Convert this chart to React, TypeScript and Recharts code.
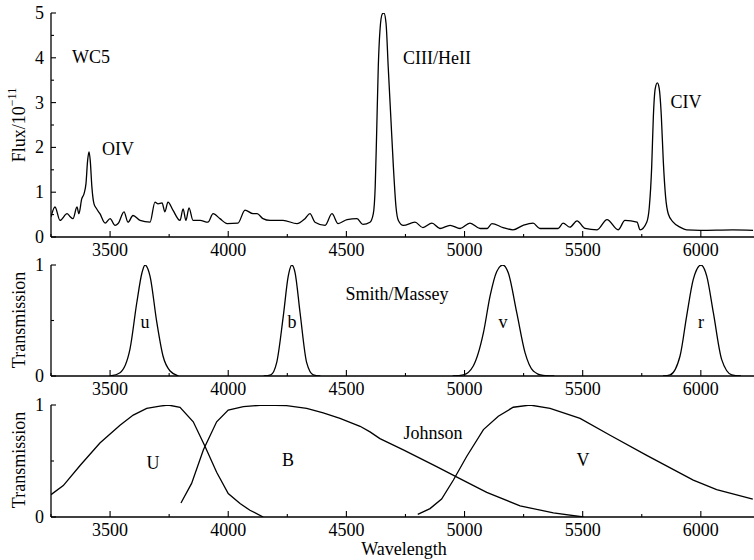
import React from "react";
import { LineChart, Line, XAxis, YAxis } from "recharts";

// WC5 spectrum (wavelength in Å, flux in 1e-11)
const spectrumWave = [
  3250, 3267, 3288, 3318, 3330, 3343, 3360, 3368, 3380, 3390, 3398, 3405, 3411,
  3416, 3423, 3432, 3443, 3457, 3479, 3500, 3521, 3534, 3559, 3576, 3597, 3627,
  3669, 3690, 3703, 3720, 3732, 3745, 3766, 3796, 3809, 3821, 3834, 3851, 3881,
  3914, 3936, 3965, 3995, 4041, 4071, 4105, 4122, 4147, 4177, 4232, 4291, 4325,
  4346, 4367, 4410, 4439, 4465, 4503, 4545, 4570, 4600, 4614, 4622, 4628, 4635,
  4642, 4652, 4659, 4668, 4677, 4688, 4699, 4710, 4720, 4741, 4790, 4824, 4862,
  4896, 4939, 4981, 5023, 5066, 5095, 5116, 5163, 5205, 5248, 5290, 5319, 5396,
  5417, 5446, 5476, 5510, 5561, 5603, 5650, 5679, 5730, 5743, 5771, 5782, 5792,
  5799, 5807, 5816, 5824, 5833, 5841, 5851, 5862, 5883, 5912, 5940, 5997, 6136,
  6221,
];
const spectrumFlux = [
  0.45, 0.67, 0.37, 0.52, 0.46, 0.41, 0.67, 0.52, 0.85, 0.97, 1.19, 1.71, 1.9,
  1.71, 1.12, 0.74, 0.63, 0.52, 0.31, 0.41, 0.26, 0.3, 0.56, 0.33, 0.48, 0.37,
  0.33, 0.78, 0.74, 0.76, 0.56, 0.78, 0.6, 0.37, 0.63, 0.37, 0.65, 0.37, 0.37,
  0.33, 0.52, 0.41, 0.3, 0.31, 0.6, 0.52, 0.52, 0.41, 0.37, 0.37, 0.3, 0.41,
  0.52, 0.33, 0.26, 0.52, 0.3, 0.39, 0.41, 0.28, 0.33, 0.52, 1.12, 2.3, 3.8,
  4.6, 4.98, 5.0, 4.76, 3.8, 2.68, 1.56, 0.67, 0.37, 0.26, 0.33, 0.21, 0.31,
  0.19, 0.26, 0.19, 0.31, 0.19, 0.19, 0.3, 0.21, 0.16, 0.26, 0.31, 0.19, 0.19,
  0.31, 0.22, 0.36, 0.19, 0.16, 0.39, 0.16, 0.37, 0.33, 0.16, 0.33, 0.67, 1.56,
  2.68, 3.31, 3.44, 3.31, 2.68, 1.71, 0.89, 0.52, 0.33, 0.22, 0.16, 0.15, 0.16,
  0.15,
];

// Smith/Massey filters
const uWave = [3500, 3542, 3584, 3613, 3635, 3648, 3669, 3698, 3724, 3754, 3790];
const uTrans = [0, 0.03, 0.24, 0.66, 0.93, 1.0, 0.9, 0.48, 0.18, 0.045, 0];
const bWave = [4150, 4180, 4205, 4233, 4254, 4269, 4283, 4304, 4332, 4360, 4390];
const bTrans = [0, 0.01, 0.12, 0.54, 0.9, 1.0, 0.93, 0.57, 0.12, 0.01, 0];
const vWave = [4950, 4995, 5037, 5080, 5108, 5136, 5162, 5185, 5221, 5256, 5291, 5333, 5380];
const vTrans = [0, 0.01, 0.09, 0.39, 0.72, 0.94, 1.0, 0.93, 0.57, 0.21, 0.045, 0.005, 0];
const rWave = [5840, 5870, 5912, 5940, 5968, 6001, 6025, 6053, 6088, 6131, 6170];
const rTrans = [0, 0.01, 0.18, 0.54, 0.87, 1.0, 0.9, 0.57, 0.15, 0.01, 0];

// Johnson filters
const jUWave = [3250, 3302, 3373, 3457, 3542, 3598, 3655, 3711, 3746, 3796, 3852, 3902, 3951, 4000, 4050, 4092, 4148];
const jUTrans = [0.2, 0.28, 0.46, 0.66, 0.82, 0.91, 0.97, 0.99, 1.0, 0.98, 0.85, 0.63, 0.4, 0.21, 0.12, 0.06, 0];
const jBWave = [3800, 3845, 3895, 3951, 4000, 4064, 4148, 4247, 4332, 4402, 4473, 4558, 4600, 4642, 4741, 4882, 4974, 5094, 5235, 5376, 5503];
const jBTrans = [0.125, 0.3, 0.6, 0.85, 0.955, 0.985, 1.0, 0.994, 0.97, 0.93, 0.88, 0.81, 0.76, 0.7, 0.6, 0.45, 0.35, 0.22, 0.1, 0.036, 0];
const jVWave = [4802, 4854, 4903, 4953, 5009, 5080, 5143, 5206, 5277, 5362, 5489, 5616, 5771, 5968, 6067, 6220];
const jVTrans = [0.024, 0.075, 0.16, 0.33, 0.54, 0.78, 0.9, 0.98, 1.0, 0.97, 0.88, 0.73, 0.55, 0.33, 0.245, 0.16];

const waveTicks = [3250, 3500, 3750, 4000, 4250, 4500, 4750, 5000, 5250, 5500, 5750, 6000];
const fluxTicks = [0, 0.5, 1, 1.5, 2, 2.5, 3, 3.5, 4, 4.5, 5];
const transTicks = [0, 0.5, 1];

const FONT = '"Liberation Serif", "Times New Roman", serif';
const WAVE_DOMAIN = [3250, 6225];

const zip = (w: number[], v: number[]) => w.map((x, i) => ({ w: x, v: v[i] }));

// ticks point inward; majors get labels, minors are short marks only
const BottomTick = (props: any) => {
  const { x, y, payload } = props;
  const major = payload.value % 500 === 0;
  return (
    <g>
      <line x1={x} x2={x} y1={y} y2={y - (major ? 6 : 3)} stroke="#000" strokeWidth={1.1} />
      {major && (
        <text x={x} y={y + 13} textAnchor="middle" dominantBaseline="central" fontFamily={FONT} fontSize={18} fill="#000">
          {payload.value}
        </text>
      )}
    </g>
  );
};

const TopTick = (props: any) => {
  const { x, y, payload } = props;
  const major = payload.value % 500 === 0;
  return <line x1={x} x2={x} y1={y} y2={y + (major ? 6 : 3)} stroke="#000" strokeWidth={1.1} />;
};

const LeftTick = (props: any) => {
  const { x, y, payload } = props;
  const major = Number.isInteger(payload.value);
  return (
    <g>
      <line x1={x} x2={x + (major ? 5 : 3)} y1={y} y2={y} stroke="#000" strokeWidth={1.1} />
      {major && (
        <text x={x - 7} y={y} textAnchor="end" dominantBaseline="central" fontFamily={FONT} fontSize={18} fill="#000">
          {payload.value}
        </text>
      )}
    </g>
  );
};

const axisLine = { stroke: "#000", strokeWidth: 1.3 };

type Series = { data: { w: number; v: number }[]; curve: "monotone" | "linear" };

const Panel = ({ top, height, marginTop, axisHeight, yMax, yTicks, series }: {
  top: number; height: number; marginTop: number; axisHeight: number; yMax: number; yTicks: number[]; series: Series[];
}) => (
  <div style={{ position: "absolute", left: 0, top }}>
    <LineChart width={754} height={height} margin={{ top: marginTop, right: 0, bottom: 0, left: 0 }}>
      <XAxis
        xAxisId="bottom"
        dataKey="w"
        type="number"
        domain={WAVE_DOMAIN}
        allowDataOverflow
        ticks={waveTicks}
        interval={0}
        height={axisHeight}
        tickSize={0}
        tickMargin={0}
        tickLine={false}
        axisLine={axisLine}
        tick={(p: any) => <BottomTick {...p} />}
      />
      <XAxis
        xAxisId="top"
        orientation="top"
        dataKey="w"
        type="number"
        domain={WAVE_DOMAIN}
        allowDataOverflow
        ticks={waveTicks}
        interval={0}
        height={0}
        tickSize={0}
        tickMargin={0}
        tickLine={false}
        axisLine={axisLine}
        tick={(p: any) => <TopTick {...p} />}
      />
      <YAxis
        type="number"
        domain={[0, yMax]}
        allowDataOverflow
        ticks={yTicks}
        interval={0}
        width={51}
        tickSize={0}
        tickMargin={0}
        tickLine={false}
        axisLine={axisLine}
        tick={(p: any) => <LeftTick {...p} />}
      />
      {series.map((s, i) => (
        <Line
          key={i}
          xAxisId="bottom"
          data={s.data}
          dataKey="v"
          type={s.curve}
          stroke="#000"
          strokeWidth={1.3}
          dot={false}
          activeDot={false}
          isAnimationActive={false}
        />
      ))}
    </LineChart>
  </div>
);

const Txt = ({ x, y, children, rotate }: { x: number; y: number; children: React.ReactNode; rotate?: boolean }) => (
  <text
    x={x}
    y={y}
    textAnchor="middle"
    dominantBaseline="central"
    fontFamily={FONT}
    fontSize={18}
    fill="#000"
    transform={rotate ? `rotate(-90 ${x} ${y})` : undefined}
  >
    {children}
  </text>
);

export default function App() {
  return (
    <div style={{ position: "absolute", left: 0, top: 0, width: 754, height: 560, background: "#fff", overflow: "hidden" }}>
      <Panel
        top={0}
        height={262}
        marginTop={13}
        axisHeight={25}
        yMax={5}
        yTicks={fluxTicks}
        series={[{ data: zip(spectrumWave, spectrumFlux), curve: "monotone" }]}
      />
      <Panel
        top={252}
        height={148}
        marginTop={13}
        axisHeight={24}
        yMax={1}
        yTicks={transTicks}
        series={[
          { data: zip(uWave, uTrans), curve: "monotone" },
          { data: zip(bWave, bTrans), curve: "monotone" },
          { data: zip(vWave, vTrans), curve: "monotone" },
          { data: zip(rWave, rTrans), curve: "monotone" },
        ]}
      />
      <Panel
        top={392}
        height={148}
        marginTop={13}
        axisHeight={23}
        yMax={1}
        yTicks={transTicks}
        series={[
          { data: zip(jUWave, jUTrans), curve: "linear" },
          { data: zip(jBWave, jBTrans), curve: "linear" },
          { data: zip(jVWave, jVTrans), curve: "linear" },
        ]}
      />
      <svg width={754} height={560} style={{ position: "absolute", left: 0, top: 0, pointerEvents: "none" }}>
        <text
          x={19}
          y={125}
          textAnchor="middle"
          dominantBaseline="central"
          fontFamily={FONT}
          fontSize={18}
          fill="#000"
          transform="rotate(-90 19 125)"
        >
          Flux/10
          <tspan fontSize={12} dy={-7}>−11</tspan>
        </text>
        <Txt x={19} y={320} rotate>Transmission</Txt>
        <Txt x={19} y={460} rotate>Transmission</Txt>
        <Txt x={404} y={549}>Wavelength</Txt>

        <Txt x={91} y={57}>WC5</Txt>
        <Txt x={118} y={149}>OIV</Txt>
        <Txt x={437} y={58}>CIII/HeII</Txt>
        <Txt x={686} y={102}>CIV</Txt>

        <Txt x={397} y={294}>Smith/Massey</Txt>
        <Txt x={145} y={322}>u</Txt>
        <Txt x={292} y={322}>b</Txt>
        <Txt x={503} y={322}>v</Txt>
        <Txt x={701} y={322}>r</Txt>

        <Txt x={433} y={433}>Johnson</Txt>
        <Txt x={153} y={463}>U</Txt>
        <Txt x={288} y={460}>B</Txt>
        <Txt x={583} y={460}>V</Txt>
      </svg>
    </div>
  );
}
